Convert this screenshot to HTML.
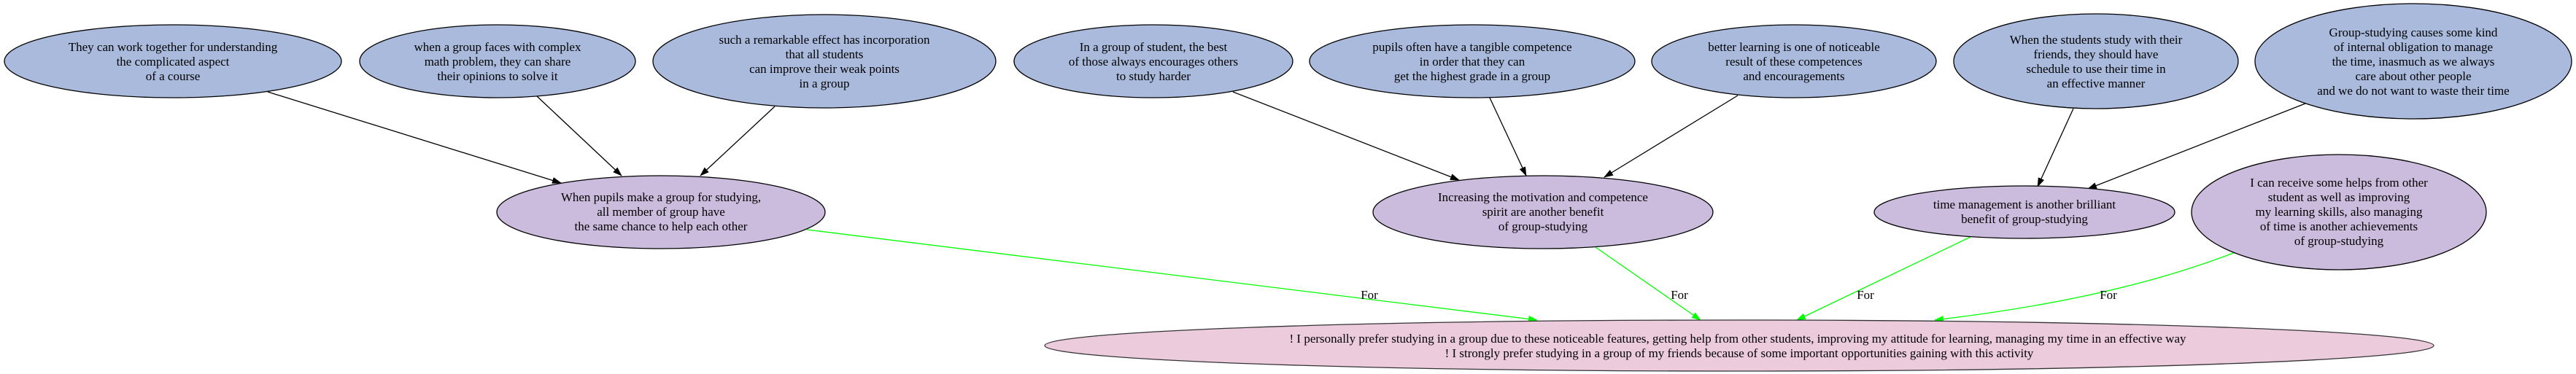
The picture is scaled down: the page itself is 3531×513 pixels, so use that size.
<!DOCTYPE html>
<html><head><meta charset="utf-8"><style>
html,body{margin:0;padding:0;background:#fff;}
svg{display:block;}
text{font-family:"Liberation Serif",serif;font-size:17px;text-anchor:middle;fill:#000;}
</style></head><body>
<svg width="3531" height="513" viewBox="0 0 3531 513" xmlns="http://www.w3.org/2000/svg">
<defs>
<marker id="ab" markerWidth="13" markerHeight="9" refX="12" refY="4.5" orient="auto" markerUnits="userSpaceOnUse"><path d="M0,0 L13,4.5 L0,9 z" fill="#000"/></marker>
<marker id="ag" markerWidth="13" markerHeight="9" refX="12" refY="4.5" orient="auto" markerUnits="userSpaceOnUse"><path d="M0,0 L13,4.5 L0,9 z" fill="#0f0"/></marker>
</defs>
<g stroke="#000" stroke-width="1.3" fill="none">
<line x1="367" y1="126" x2="769" y2="251" marker-end="url(#ab)"/>
<line x1="736" y1="132" x2="852" y2="241" marker-end="url(#ab)"/>
<line x1="1062" y1="146" x2="960" y2="241" marker-end="url(#ab)"/>
<line x1="1690" y1="126" x2="2000" y2="247" marker-end="url(#ab)"/>
<line x1="2042" y1="134" x2="2092" y2="241" marker-end="url(#ab)"/>
<line x1="2382" y1="131" x2="2199" y2="243" marker-end="url(#ab)"/>
<line x1="2842" y1="149" x2="2793" y2="256" marker-end="url(#ab)"/>
<line x1="3160" y1="142" x2="2862" y2="259" marker-end="url(#ab)"/>
</g>
<g stroke="#0f0" stroke-width="1.3" fill="none">
<line x1="1106" y1="315" x2="2107" y2="439" marker-end="url(#ag)"/>
<line x1="2187" y1="339" x2="2331" y2="439" marker-end="url(#ag)"/>
<line x1="2701" y1="325" x2="2463" y2="439" marker-end="url(#ag)"/>
<path d="M3064,346 Q2900,410 2652,439" marker-end="url(#ag)"/>
</g>
<text x="1877" y="410">For</text>
<text x="2302" y="410">For</text>
<text x="2557" y="410">For</text>
<text x="2890" y="410">For</text>

<g stroke="#000" stroke-width="1.3">
<ellipse cx="237" cy="84" rx="231" ry="50" fill="#a9badc"/>
<ellipse cx="682" cy="84" rx="189" ry="50" fill="#a9badc"/>
<ellipse cx="1130" cy="84" rx="235" ry="64" fill="#a9badc"/>
<ellipse cx="1581" cy="84" rx="191" ry="50" fill="#a9badc"/>
<ellipse cx="2018" cy="84" rx="223" ry="50" fill="#a9badc"/>
<ellipse cx="2459" cy="84" rx="195" ry="50" fill="#a9badc"/>
<ellipse cx="2873" cy="84" rx="195" ry="65" fill="#a9badc"/>
<ellipse cx="3308" cy="84" rx="217" ry="79" fill="#a9badc"/>
<ellipse cx="906" cy="291" rx="225" ry="50" fill="#cbbbdd"/>
<ellipse cx="2115" cy="291" rx="233" ry="50" fill="#cbbbdd"/>
<ellipse cx="2775" cy="291" rx="206" ry="36" fill="#cbbbdd"/>
<ellipse cx="3206" cy="291" rx="202" ry="79" fill="#cbbbdd"/>
<ellipse cx="2384" cy="474" rx="952" ry="35" fill="#eccbdd" stroke="#333"/>
</g>

<text x="237" y="70">They can work together for understanding</text>
<text x="237" y="90">the complicated aspect</text>
<text x="237" y="110">of a course</text>

<text x="682" y="70">when a group faces with complex</text>
<text x="682" y="90">math problem, they can share</text>
<text x="682" y="110">their opinions to solve it</text>

<text x="1130" y="60">such a remarkable effect has incorporation</text>
<text x="1130" y="80">that all students</text>
<text x="1130" y="100">can improve their weak points</text>
<text x="1130" y="120">in a group</text>

<text x="1581" y="70">In a group of student, the best</text>
<text x="1581" y="90">of those always encourages others</text>
<text x="1581" y="110">to study harder</text>

<text x="2018" y="70">pupils often have a tangible competence</text>
<text x="2018" y="90">in order that they can</text>
<text x="2018" y="110">get the highest grade in a group</text>

<text x="2459" y="70">better learning is one of noticeable</text>
<text x="2459" y="90">result of these competences</text>
<text x="2459" y="110">and encouragements</text>

<text x="2873" y="60">When the students study with their</text>
<text x="2873" y="80">friends, they should have</text>
<text x="2873" y="100">schedule to use their time in</text>
<text x="2873" y="120">an effective manner</text>

<text x="3308" y="50">Group-studying causes some kind</text>
<text x="3308" y="70">of internal obligation to manage</text>
<text x="3308" y="90">the time, inasmuch as we always</text>
<text x="3308" y="110">care about other people</text>
<text x="3308" y="130">and we do not want to waste their time</text>

<text x="906" y="276">When pupils make a group for studying,</text>
<text x="906" y="296">all member of group have</text>
<text x="906" y="316">the same chance to help each other</text>

<text x="2115" y="276">Increasing the motivation and competence</text>
<text x="2115" y="296">spirit are another benefit</text>
<text x="2115" y="316">of group-studying</text>

<text x="2775" y="286">time management is another brilliant</text>
<text x="2775" y="306">benefit of group-studying</text>

<text x="3206" y="256">I can receive some helps from other</text>
<text x="3206" y="276">student as well as improving</text>
<text x="3206" y="296">my learning skills, also managing</text>
<text x="3206" y="316">of time is another achievements</text>
<text x="3206" y="336">of group-studying</text>

<text x="2382" y="470">! I personally prefer studying in a group due to these noticeable features, getting help from other students, improving my attitude for learning, managing my time in an effective way</text>
<text x="2384" y="490">! I strongly prefer studying in a group of my friends because of some important opportunities gaining with this activity</text>
</svg>
</body></html>
